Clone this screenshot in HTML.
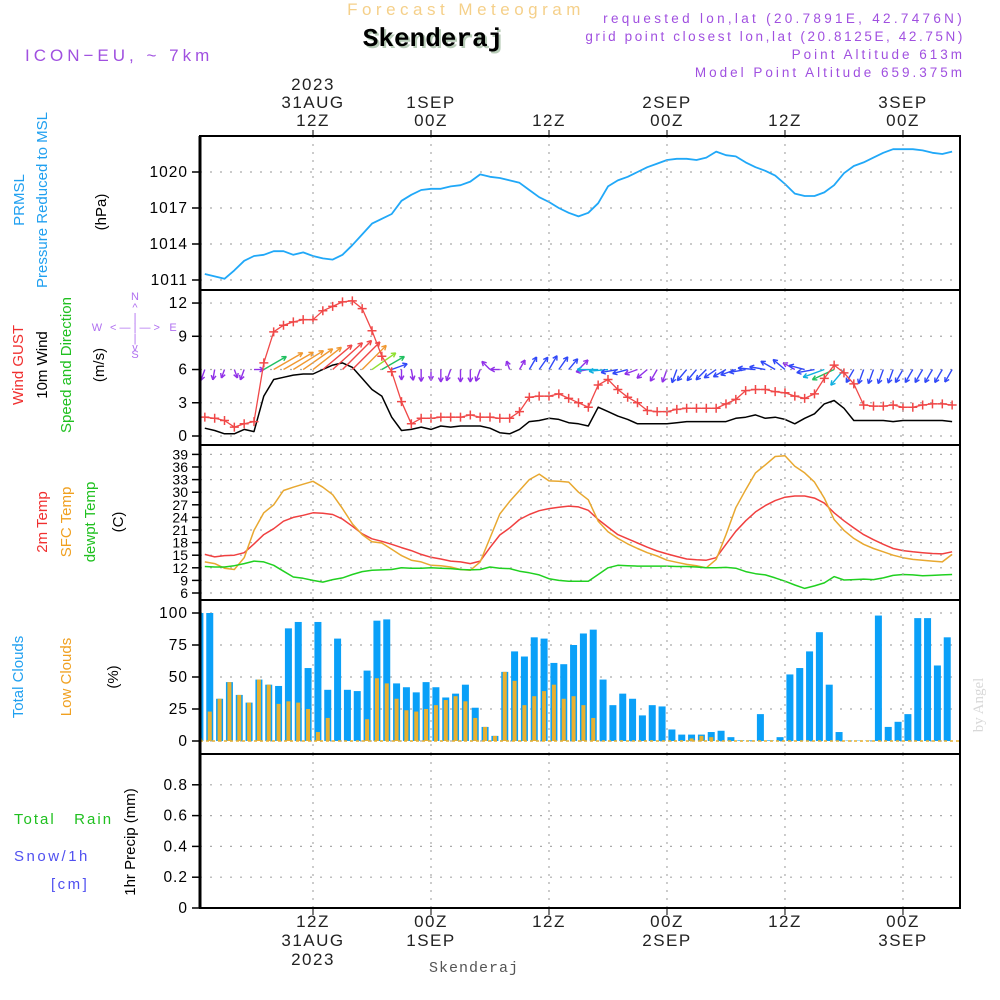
<!DOCTYPE html>
<html><head><meta charset="utf-8"><style>
html,body{margin:0;padding:0;background:#fff;}
svg{display:block;font-family:"Liberation Sans",sans-serif;}
</style></head><body>
<svg id="chart" width="1000" height="1000" viewBox="0 0 1000 1000" xmlns="http://www.w3.org/2000/svg">
<rect x="0" y="0" width="1000" height="1000" fill="#fff"/>
<g>
<text x="466" y="15" text-anchor="middle" font-size="17" fill="#f5d08a" letter-spacing="4.5">Forecast Meteogram</text>
<text x="435" y="48" text-anchor="middle" font-family="'Liberation Mono',monospace" font-weight="bold" font-size="26" fill="#b8ccb8">Skenderaj</text>
<text x="433" y="46" text-anchor="middle" font-family="'Liberation Mono',monospace" font-weight="bold" font-size="26" fill="#000">Skenderaj</text>
<text x="25" y="61" font-size="17" fill="#a050e0" letter-spacing="4">ICON−EU, ~ 7km</text>
<text x="965" y="23" text-anchor="end" font-size="13.5" fill="#a050e0" letter-spacing="3.3">requested lon,lat (20.7891E, 42.7476N)</text>
<text x="965" y="41" text-anchor="end" font-size="13.5" fill="#a050e0" letter-spacing="2.6">grid point closest lon,lat (20.8125E, 42.75N)</text>
<text x="965" y="59" text-anchor="end" font-size="13.5" fill="#a050e0" letter-spacing="3">Point Altitude 613m</text>
<text x="965" y="77" text-anchor="end" font-size="13.5" fill="#a050e0" letter-spacing="3">Model Point Altitude 659.375m</text>
</g>
<g font-size="15">
<text transform="translate(24,200) rotate(-90)" text-anchor="middle" fill="#20a0f0">PRMSL</text>
<text transform="translate(47,200) rotate(-90)" text-anchor="middle" fill="#20a0f0">Pressure Reduced to MSL</text>
<text transform="translate(106,212) rotate(-90)" text-anchor="middle" fill="#000">(hPa)</text>
<text transform="translate(23,365) rotate(-90)" text-anchor="middle" fill="#f03030">Wind GUST</text>
<text transform="translate(47,365) rotate(-90)" text-anchor="middle" fill="#000">10m Wind</text>
<text transform="translate(71,365) rotate(-90)" text-anchor="middle" fill="#20c020">Speed and Direction</text>
<text transform="translate(104,365) rotate(-90)" text-anchor="middle" fill="#000">(m/s)</text>
<g fill="#b070f0" font-size="11" text-anchor="middle">
<text x="135" y="300">N</text><text x="135" y="311">^</text><text x="135" y="321">|</text>
<text x="97" y="331">W</text><text x="135" y="331">&lt; — | — &gt;</text><text x="173" y="331">E</text>
<text x="135" y="342">|</text><text x="135" y="351">v</text><text x="135" y="358">S</text>
</g>
<text transform="translate(47,522) rotate(-90)" text-anchor="middle" fill="#f03030">2m Temp</text>
<text transform="translate(71,522) rotate(-90)" text-anchor="middle" fill="#f0a020">SFC Temp</text>
<text transform="translate(95,522) rotate(-90)" text-anchor="middle" fill="#20c020">dewpt Temp</text>
<text transform="translate(123,522) rotate(-90)" text-anchor="middle" fill="#000">(C)</text>
<text transform="translate(23,677) rotate(-90)" text-anchor="middle" fill="#20a0f0">Total Clouds</text>
<text transform="translate(71,677) rotate(-90)" text-anchor="middle" fill="#f0a020">Low Clouds</text>
<text transform="translate(118,677) rotate(-90)" text-anchor="middle" fill="#000">(%)</text>
<text x="14" y="824" fill="#20c020" letter-spacing="2" xml:space="preserve">Total   Rain</text>
<text x="14" y="861" fill="#5050f0" letter-spacing="2.5">Snow/1h</text>
<text x="51" y="889" fill="#5050f0" letter-spacing="2.5">[cm]</text>
<text transform="translate(135,842) rotate(-90)" text-anchor="middle" fill="#000">1hr Precip (mm)</text>
</g>
<text transform="translate(983,705) rotate(-90)" text-anchor="middle" font-family="'Liberation Serif',serif" font-size="15" fill="#d8d8d8">by Angel</text>
<text x="474" y="972" text-anchor="middle" font-family="'Liberation Mono',monospace" font-size="15" fill="#555" letter-spacing="1">Skenderaj</text>
<g id="plot"></g>
</svg>
<script>
const tickHours=[12,24,36,48,60,72];
const tickTop1=["2023","","","","",""];
const tickTop2=["31AUG","1SEP","","2SEP","","3SEP"];
const tickTop3=["12Z","00Z","12Z","00Z","12Z","00Z"];
const tickBot2=["31AUG","1SEP","","2SEP","","3SEP"];
const tickBot3=["2023","","","","",""];
const pressure=[1011.5,1011.3,1011.1,1011.8,1012.6,1013.0,1013.1,1013.4,1013.4,1013.1,1013.3,1013.0,1012.8,1012.7,1013.1,1013.9,1014.8,1015.7,1016.1,1016.5,1017.6,1018.1,1018.5,1018.6,1018.6,1018.8,1018.9,1019.2,1019.8,1019.6,1019.5,1019.3,1019.1,1018.5,1017.9,1017.5,1017.0,1016.6,1016.3,1016.6,1017.4,1018.8,1019.3,1019.6,1020.0,1020.4,1020.7,1021.0,1021.1,1021.1,1021.0,1021.2,1021.7,1021.4,1021.3,1020.8,1020.4,1020.1,1019.7,1019.0,1018.2,1018.0,1018.0,1018.3,1018.9,1019.9,1020.5,1020.8,1021.2,1021.6,1021.9,1021.9,1021.9,1021.8,1021.6,1021.5,1021.7];
const gust=[1.7,1.6,1.4,0.8,1.1,1.3,6.6,9.4,10.0,10.3,10.5,10.5,11.3,11.7,12.1,12.2,11.5,9.5,7.2,5.8,3.1,1.1,1.6,1.6,1.7,1.7,1.7,1.9,1.7,1.7,1.6,1.6,2.2,3.5,3.6,3.6,3.8,3.4,3.0,2.6,4.6,5.1,4.2,3.5,3.0,2.3,2.2,2.2,2.4,2.5,2.5,2.5,2.5,2.9,3.3,4.1,4.2,4.2,4.0,3.9,3.6,3.4,3.8,5.2,6.4,5.7,4.7,2.8,2.7,2.7,2.8,2.6,2.6,2.8,2.9,2.9,2.8];
const wind10=[0.7,0.5,0.2,0.2,0.6,0.4,3.6,5.1,5.3,5.5,5.6,5.6,6.0,6.4,6.6,6.2,5.2,4.2,3.6,1.7,0.5,0.6,0.8,0.6,0.9,0.8,0.9,0.9,0.9,0.7,0.3,0.2,0.6,1.3,1.4,1.6,1.5,1.2,1.1,0.9,2.6,2.2,1.8,1.5,1.1,1.1,1.1,1.1,1.2,1.3,1.3,1.3,1.3,1.3,1.6,1.7,1.9,1.6,1.7,1.5,1.1,1.6,2.0,2.9,3.2,2.5,1.4,1.4,1.4,1.4,1.3,1.4,1.4,1.4,1.4,1.4,1.3];
const windDir=[200,190,200,160,200,90,60,60,60,58,55,52,50,48,45,45,45,55,60,70,180,170,180,180,180,200,180,180,200,315,270,340,30,30,35,30,35,40,45,260,270,265,260,255,250,230,210,200,200,220,220,225,235,240,250,260,275,280,300,310,300,285,260,250,245,220,210,200,200,200,200,210,210,210,210,210,210];
const t2m=[15.2,14.6,14.9,15.0,15.6,17.7,19.9,21.3,23.1,24.0,24.5,25.1,25.0,24.7,23.6,21.9,20.1,18.9,18.3,17.6,16.8,16.1,15.2,14.5,14.1,13.6,13.4,13.0,13.6,16.8,19.8,21.5,23.5,24.7,25.6,26.1,26.4,26.7,26.5,25.7,23.5,21.7,19.9,18.9,17.9,16.9,16.0,15.3,14.7,14.1,13.9,13.8,14.4,17.6,20.7,23.2,25.3,26.8,28.0,28.8,29.1,29.1,28.6,27.4,25.1,23.2,21.5,19.9,18.7,17.6,16.6,16.1,15.8,15.6,15.4,15.3,15.8];
const tsfc=[13.4,13.0,11.9,11.6,14.4,20.9,25.1,27.0,30.4,31.2,31.9,32.6,31.2,29.4,26.1,22.5,19.9,18.2,17.9,16.4,14.9,13.8,13.4,12.6,12.5,12.2,11.6,11.4,13.4,19.1,24.8,27.8,30.4,33.0,34.3,32.7,32.6,32.4,30.0,28.2,23.1,20.6,19.0,17.7,16.6,15.6,14.8,13.8,13.3,12.8,12.5,12.0,14.0,19.9,26.3,30.6,34.6,36.5,38.5,38.7,36.2,34.6,32.4,28.6,23.5,20.9,19.0,17.6,16.6,15.8,15.0,14.4,14.0,13.8,13.6,13.4,15.2];
const dewpt=[12.3,12.2,12.2,12.5,13.0,13.6,13.4,12.6,11.2,9.8,9.5,9.0,8.6,9.2,9.6,10.4,11.1,11.4,11.5,11.6,12.0,11.9,11.9,12.0,11.9,11.8,11.6,11.5,11.6,12.2,11.9,11.8,11.2,10.8,10.3,9.4,9.0,8.8,8.8,8.8,10.4,12.0,12.6,12.5,12.4,12.4,12.4,12.4,12.3,12.3,12.2,12.0,12.0,12.1,11.9,11.1,10.6,10.3,9.6,8.8,7.9,7.1,7.7,8.4,9.9,9.1,9.2,9.3,9.2,9.6,10.2,10.4,10.3,10.1,10.2,10.3,10.4];
const totalClouds=[100,100,33,46,36,30,48,44,43,88,93,57,93,40,80,40,39,55,94,95,45,42,38,46,42,34,37,44,26,11,4,54,70,66,81,80,61,60,75,84,87,48,28,37,33,20,28,27,9,5,5,5,7,8,3,0.5,0.5,21,0.5,3,52,57,70,85,44,7,0.3,0.3,0.3,98,11,15,21,96,96,59,81];
const lowClouds=[2,23,33,46,36,30,48,44,29,31,30,25,7,18,0,0,0,17,49,45,33,24,23,25,28,32,35,31,18,11,4,54,47,28,35,39,44,33,35,28,18,0,0,0,0,0,0,0,0,0,2,4,3,0,0,0,0,0,0,0,0,0,0,0,0,0,0,0,0,0,0,0,0,0,0,0,0];
const precip=[];
const pTicks=[1011,1014,1017,1020];
const wTicks=[0,3,6,9,12];
const tTicks=[6,9,12,15,18,21,24,27,30,33,36,39];
const cTicks=[0,25,50,75,100];
const rTicks=["0","0.2","0.4","0.6","0.8"];

const NS="http://www.w3.org/2000/svg";
const plot=document.getElementById('plot');
const X0=200,X1=960;
const xH=h=>313+(h-12)*9.833;
const yP=v=>280-(v-1011)*12;
const yW=v=>436-v*11.08;
const yT=v=>593-(v-6)*4.2;
const yC=v=>741-v*1.28;
const yR=v=>908-v*154;
const panels=[[136,290],[290,445],[445,600],[600,754],[754,908]];
function mk(tag,attrs,parent){const e=document.createElementNS(NS,tag);for(const k in attrs)e.setAttribute(k,attrs[k]);(parent||plot).appendChild(e);return e;}
const clip=mk('clipPath',{id:'pc'});mk('rect',{x:X0,y:130,width:X1-X0,height:790},clip);
const g=mk('g',{'clip-path':'url(#pc)'});

function hgrid(vals,fn,name){vals.forEach(v=>{const y=fn(+v);
 const l=mk('line',{x1:X0,x2:X1,y1:y,y2:y,stroke:'#aaa','stroke-width':1.2,'stroke-dasharray':'2 8'},g);
 
 
 const t=mk('line',{x1:X0-8,x2:X0,y1:y,y2:y,stroke:'#000','stroke-width':1.5});
 
 
 const tx=mk('text',{x:188,y:y+5,'text-anchor':'end','font-size':name==='temp'?14:15.5,fill:'#000','letter-spacing':name==='temp'?0:1});
 tx.textContent=v;
 
 
});}
hgrid(pTicks,yP,'pressure');hgrid(wTicks,yW,'wind');hgrid(tTicks,yT,'temp');hgrid(cTicks,yC,'cloud');hgrid(rTicks,yR,'precip');
tickHours.forEach((h,i)=>{const x=xH(h);
 panels.forEach(p=>{const l=mk('line',{x1:x,x2:x,y1:p[0],y2:p[1],stroke:'#aaa','stroke-width':1.2,'stroke-dasharray':'2 6'});
  
  });
 const tl=[[tickTop1[i],90],[tickTop2[i],108],[tickTop3[i],126]];
 tl.forEach(a=>{if(!a[0])return;const t=mk('text',{x:x,y:a[1],'text-anchor':'middle','font-size':17,fill:'#222','letter-spacing':1.5});t.textContent=a[0];
  
  });
 const bl=[[tickTop3[i],927],[tickBot2[i],946],[tickBot3[i],965]];
 bl.forEach(a=>{if(!a[0])return;const t=mk('text',{x:x,y:a[1],'text-anchor':'middle','font-size':17,fill:'#222','letter-spacing':1.5});t.textContent=a[0];
  
  });
 mk('line',{x1:x,x2:x,y1:908,y2:915,stroke:'#000'});
 mk('line',{x1:x,x2:x,y1:130,y2:136,stroke:'#000'});
});

function line(arr,fn,color,name,w){let d='';arr.forEach((v,i)=>{d+=(i?'L':'M')+xH(i+1).toFixed(1)+','+fn(v).toFixed(1);});
 const p=mk('path',{d:d,fill:'none',stroke:color,'stroke-width':w||1.5,'stroke-linejoin':'round'},g);
 
 return p;}
totalClouds.forEach((v,i)=>{const x=xH(i+0.5);
 const r=mk('rect',{x:x-3.5,y:yC(v),width:7,height:741-yC(v),fill:'#0aa0f8'},g);
 
 });
lowClouds.forEach((v,i)=>{const x=xH(i+0.5);
 const r=mk('rect',{x:x-2,y:yC(v),width:4,height:741-yC(v),fill:'#e8b030'},g);
 
 });
mk('line',{x1:X0,x2:X1,y1:741,y2:741,stroke:'#e8b030','stroke-width':1.5,'stroke-dasharray':'3 3'},g);
line(pressure,yP,'#20a8f8','pressure-line',1.8);
line(t2m,yT,'#f04040','t2m-line');
line(tsfc,yT,'#e8a830','tsfc-line');
line(dewpt,yT,'#20d020','dewpt-line');
line(wind10,yW,'#000','wind10-line',1.5);
function wcol(s){return s<1.2?'#9030e8':s<2.2?'#3048f8':s<3?'#10b0e0':s<4?'#20c060':s<5?'#90e030':s<5.8?'#f09830':'#f04848';}
wind10.forEach((s,i)=>{const x=xH(i+1),y=yW(6);const L=8+5*s;const a=windDir[i]*Math.PI/180;
 const dx=Math.sin(a)*L,dy=-Math.cos(a)*L;const ex=x+dx,ey=y+dy;const c=wcol(s);
 const grp=mk('g',{stroke:c,'stroke-width':1.4,fill:'none'},g);
 
 
 mk('line',{x1:x,y1:y,x2:ex,y2:ey},grp);
 const hl=5,ang=Math.atan2(dy,dx);
 [1,-1].forEach(o=>mk('line',{x1:ex,y1:ey,x2:ex-hl*Math.cos(ang+o*0.5),y2:ey-hl*Math.sin(ang+o*0.5)},grp));
});
line(gust,yW,'#f04848','gust-line',1.3);
gust.forEach((v,i)=>{const x=xH(i+1),y=yW(v);
 const p=mk('path',{d:`M${x-4.5},${y}H${x+4.5}M${x},${y-4.5}V${y+4.5}`,stroke:'#f04848','stroke-width':1.5},g);
 
 });
mk('line',{x1:X0,x2:X1,y1:908,y2:908,stroke:'#333','stroke-width':1.5,'stroke-dasharray':'4 3'},g);
panels.forEach((p,i)=>{const r=mk('rect',{x:X0,y:p[0],width:X1-X0,height:p[1]-p[0],fill:'none',stroke:'#000','stroke-width':2});
 
 });
mk('line',{x1:X0,x2:X0,y1:136,y2:908,stroke:'#000','stroke-width':3});
</script>
</body></html>
